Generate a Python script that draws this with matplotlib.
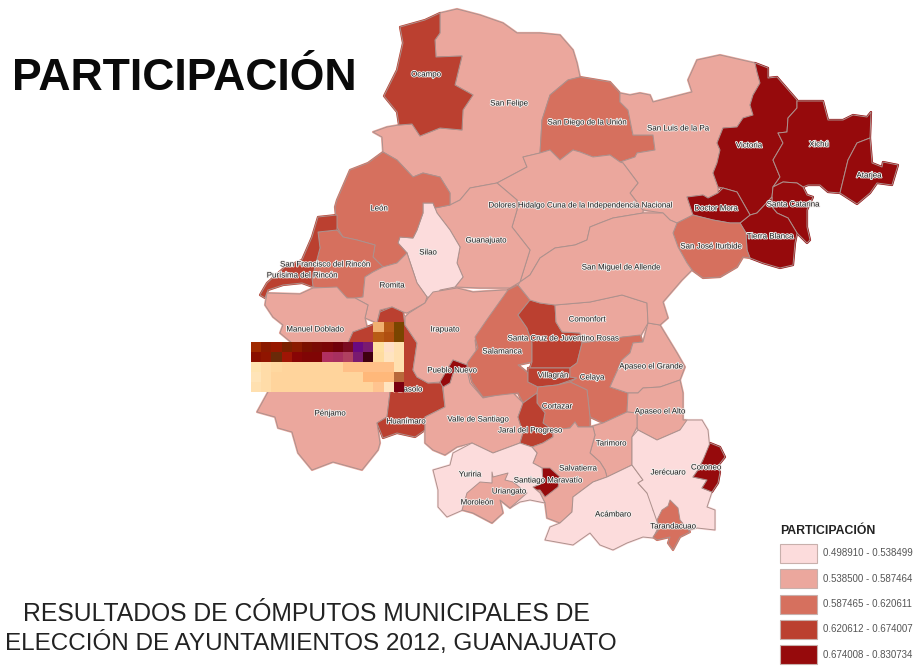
import numpy as np
import matplotlib
matplotlib.use("Agg")
import matplotlib.pyplot as plt
import matplotlib.patheffects as pe
from matplotlib.colors import to_rgba
from matplotlib.patches import Polygon, Rectangle

plt.rcParams['font.family'] = ['Liberation Sans', 'DejaVu Sans']

# municipality outlines (pixel positions of the scanned map)
ocampo = [(440,13),(440,33),(435,40),(436,57),(462,56),(455,85),(473,95),(463,110),(462,130),(440,128),(420,136),(412,124),(399,125),(397,112),(384,96),(397,70),(403,43),(400,27),(425,20)]
san_felipe = [(440,13),(457,9),(480,15),(503,23),(517,33),(540,33),(560,35),(573,50),(577,63),(580,77),(568,80),(550,95),(542,120),(540,153),(523,157),(527,167),(497,183),(470,188),(460,200),(450,205),(450,193),(440,177),(423,173),(413,177),(397,160),(383,152),(382,137),(373,132),(387,127),(399,125),(412,124),(420,136),(440,128),(462,130),(463,110),(473,95),(455,85),(462,56),(436,57),(435,40),(440,33)]
san_diego = [(568,80),(580,77),(610,82),(620,93),(620,102),(628,110),(633,135),(653,135),(655,150),(637,153),(635,157),(620,162),(610,155),(593,157),(580,152),(573,150),(560,160),(550,150),(540,153),(542,120),(550,95)]
san_luis = [(620,93),(630,95),(640,93),(650,95),(653,102),(692,92),(688,80),(697,60),(720,55),(755,63),(757,72),(760,83),(753,95),(750,105),(753,115),(743,118),(737,127),(723,128),(717,143),(720,150),(717,163),(713,173),(718,187),(718,193),(708,198),(703,195),(687,197),(693,215),(677,223),(670,220),(663,213),(643,210),(630,193),(638,183),(623,163),(620,162),(635,157),(637,153),(655,150),(653,135),(633,135),(628,110),(620,102)]
victoria = [(755,63),(768,68),(768,78),(777,77),(797,100),(797,108),(788,118),(787,132),(778,133),(783,143),(773,160),(780,177),(773,187),(772,197),(757,213),(750,215),(737,192),(723,188),(718,187),(713,173),(717,163),(720,150),(717,143),(723,128),(737,127),(743,118),(753,115),(750,105),(753,95),(760,83),(757,72)]
xichu = [(797,101),(823,101),(828,120),(843,120),(853,115),(867,117),(871,112),(870,138),(857,143),(848,160),(840,193),(828,192),(820,185),(808,185),(803,187),(797,183),(783,182),(773,187),(780,177),(773,160),(783,143),(778,133),(787,132),(788,118),(797,108)]
atarjea = [(870,138),(872,163),(882,167),(883,162),(898,165),(892,185),(877,183),(870,193),(857,204),(840,193),(848,160),(857,143)]
santa_catarina = [(773,187),(783,182),(797,183),(803,187),(807,195),(813,197),(807,210),(807,227),(810,240),(807,243),(797,233),(788,218),(777,213),(772,207),(772,197)]
tierra_blanca = [(750,215),(757,213),(772,197),(772,207),(777,213),(788,218),(797,233),(795,243),(793,265),(780,268),(763,263),(750,258),(747,250),(746,233),(740,223)]
doctor_mora = [(687,197),(703,195),(708,198),(718,193),(723,188),(737,192),(750,215),(740,223),(730,223),(713,220),(693,215)]
san_jose = [(693,215),(713,220),(730,223),(740,223),(746,233),(747,250),(750,258),(743,257),(737,267),(720,277),(703,278),(692,270),(687,263),(678,247),(673,233),(677,223)]
dolores = [(540,153),(550,150),(560,160),(573,150),(580,152),(593,157),(610,155),(620,162),(623,163),(638,183),(630,193),(643,210),(643,213),(613,218),(600,223),(590,227),(587,240),(575,245),(555,248),(540,258),(530,275),(520,282),(530,250),(512,227),(517,210),(517,200),(497,183),(527,167),(523,157)]
guanajuato = [(497,183),(517,200),(517,210),(512,227),(530,250),(520,282),(510,288),(480,288),(455,287),(463,277),(457,263),(460,247),(450,230),(437,213),(435,208),(450,205),(460,200),(470,188)]
silao = [(423,203),(433,203),(437,213),(450,230),(460,247),(457,263),(463,277),(455,287),(440,290),(438,298),(427,297),(417,283),(407,253),(398,243),(400,237),(413,238),(417,230),(423,213)]
leon = [(383,152),(397,160),(413,177),(423,173),(440,177),(450,193),(450,205),(435,208),(433,203),(423,203),(423,213),(417,230),(413,238),(400,237),(398,243),(407,253),(397,263),(383,267),(373,257),(375,245),(357,240),(343,237),(337,227),(335,207),(337,200),(350,170),(368,163)]
san_francisco = [(318,232),(337,230),(343,237),(357,240),(375,245),(373,257),(383,267),(373,272),(365,277),(363,297),(350,300),(337,290),(313,287),(312,278),(320,248)]
purisima = [(318,217),(337,215),(337,230),(318,232),(320,248),(312,278),(313,287),(302,283),(283,285),(268,290),(265,298),(260,295),(267,283),(285,267),(302,260),(312,237)]
romita = [(383,267),(397,263),(407,253),(417,283),(427,297),(425,303),(407,313),(403,312),(392,307),(380,310),(377,323),(365,318),(368,305),(355,298),(363,297),(365,277),(373,272)]
manuel_doblado = [(265,305),(267,293),(300,294),(313,288),(337,287),(347,298),(355,298),(368,305),(365,318),(367,327),(353,332),(348,343),(292,343),(280,333),(283,325),(273,317)]
penjamo = [(292,343),(348,343),(375,343),(390,392),(387,417),(377,423),(380,443),(378,450),(362,470),(333,462),(312,470),(298,453),(292,432),(278,428),(275,417),(257,412),(268,392),(262,370)]
cueramaro = [(348,343),(353,332),(367,327),(377,323),(380,343),(376,362),(350,362)]
abasolo = [(377,323),(380,312),(392,307),(403,312),(405,325),(413,337),(417,343),(413,370),(417,377),(428,383),(442,383),(445,407),(425,417),(425,430),(415,437),(397,433),(383,438),(377,423),(387,417),(390,392),(375,343)]
irapuato = [(409,313),(425,303),(428,298),(433,292),(457,288),(473,292),(503,290),(510,290),(493,317),(475,340),(477,358),(467,365),(453,360),(447,370),(440,382),(428,383),(417,377),(413,370),(417,343),(413,337),(405,325),(405,317)]
pueblo_nuevo = [(453,360),(467,365),(467,370),(453,373),(450,383),(443,387),(440,382),(447,370)]
valle_santiago = [(453,373),(450,383),(443,387),(445,407),(425,417),(425,443),(433,450),(445,455),(457,447),(472,443),(493,453),(520,443),(523,433),(518,417),(523,403),(512,392),(483,398),(470,383),(467,370)]
salamanca = [(518,285),(530,300),(518,315),(527,328),(532,343),(532,362),(518,365),(528,373),(528,382),(538,387),(537,393),(523,403),(518,393),(483,397),(472,382),(467,363),(478,348),(475,337),(488,318),(508,290)]
santa_cruz = [(518,315),(530,300),(540,303),(555,305),(556,322),(562,332),(580,333),(582,343),(577,363),(570,368),(530,368),(532,362),(532,343),(527,328)]
villagran = [(528,368),(570,368),(570,377),(577,378),(557,385),(538,387),(528,382)]
comonfort = [(555,305),(590,302),(622,295),(647,303),(648,323),(640,337),(623,337),(613,340),(582,342),(580,333),(562,332),(556,322)]
celaya = [(582,343),(623,337),(640,335),(643,342),(633,343),(630,353),(622,360),(610,387),(628,393),(627,412),(603,423),(590,417),(587,390),(570,382),(577,378),(570,377),(570,368),(577,363)]
cortazar = [(538,387),(557,385),(570,382),(587,390),(590,417),(590,427),(578,427),(575,422),(570,428),(553,430),(543,423),(545,413),(537,403),(537,393)]
jaral = [(537,393),(523,403),(518,417),(523,433),(520,443),(532,447),(543,443),(553,437),(553,430),(543,423),(545,413),(537,403)]
apaseo_grande = [(643,342),(648,323),(660,325),(677,353),(685,367),(680,380),(660,387),(643,388),(638,393),(628,393),(610,387),(622,360),(630,353),(633,343)]
apaseo_alto = [(628,393),(638,393),(643,388),(660,387),(680,380),(683,393),(683,420),(687,420),(687,425),(680,430),(657,440),(638,430),(637,427),(637,413),(627,412)]
san_miguel = [(643,213),(613,218),(600,223),(590,227),(587,240),(575,245),(555,248),(540,258),(530,275),(520,282),(518,285),(530,300),(540,303),(555,305),(590,302),(622,295),(647,303),(648,323),(660,325),(668,318),(663,302),(682,280),(692,270),(687,263),(678,247),(673,233),(677,223),(670,220),(663,213)]
tarimoro = [(590,427),(603,423),(627,412),(637,413),(637,427),(632,437),(632,453),(632,465),(607,477),(605,470),(600,462),(590,453),(595,435),(593,427)]
salvatierra = [(553,430),(570,428),(575,422),(578,427),(593,427),(595,435),(590,453),(600,462),(605,470),(607,477),(593,482),(573,497),(572,512),(560,523),(547,518),(545,503),(540,493),(533,487),(542,468),(533,463),(537,453),(532,447),(543,443),(553,437)]
santiago_maravatio = [(542,468),(550,468),(560,477),(558,487),(545,497),(540,490),(533,490),(533,487),(543,483)]
yuriria = [(453,453),(472,443),(493,453),(520,443),(532,447),(537,453),(533,463),(542,468),(543,483),(533,487),(540,493),(545,503),(530,500),(520,502),(510,508),(500,500),(502,513),(492,523),(473,513),(463,510),(447,517),(438,507),(438,490),(433,470),(450,465)]
moroleon = [(492,472),(493,477),(508,473),(505,480),(513,482),(527,493),(510,508),(500,500),(503,513),(492,523),(473,513),(462,510),(467,493),(480,482),(492,483)]
acambaro = [(607,477),(632,465),(643,480),(638,483),(647,493),(657,503),(653,510),(660,520),(657,530),(653,538),(643,537),(627,543),(613,550),(600,545),(590,533),(580,540),(573,545),(545,540),(550,527),(560,523),(572,512),(573,497),(593,482)]
jerecuaro = [(632,437),(638,430),(657,440),(680,430),(687,420),(702,420),(708,430),(710,450),(703,460),(698,470),(693,477),(707,480),(702,488),(712,492),(707,507),(715,510),(715,530),(697,528),(683,532),(660,530),(653,510),(647,493),(638,483),(643,480),(632,465),(632,453)]
tarandacuao = [(670,500),(678,508),(680,520),(690,532),(680,537),(673,550),(668,543),(670,537),(657,540),(653,537),(660,528),(657,520),(662,510),(668,506)]
coroneo = [(710,443),(720,447),(725,457),(717,467),(720,472),(718,483),(712,492),(702,488),(707,480),(693,477),(698,470),(703,460)]

outlines = [san_felipe, ocampo, san_diego, san_luis, victoria, xichu, atarjea, santa_catarina,
            tierra_blanca, doctor_mora, san_jose, dolores, guanajuato, silao, leon, san_francisco,
            purisima, romita, manuel_doblado, penjamo, cueramaro, abasolo, irapuato, valle_santiago,
            pueblo_nuevo, salamanca, santa_cruz, villagran, comonfort, celaya, cortazar, jaral,
            apaseo_grande, apaseo_alto, san_miguel, tarimoro, salvatierra, santiago_maravatio, yuriria,
            moroleon, acambaro, jerecuaro, tarandacuao, coroneo]
# participation class of each outline, same order
clases = [1, 3, 2, 1, 4, 4, 4, 4,
          4, 4, 2, 1, 1, 0, 2, 2,
          3, 1, 1, 1, 3, 3, 1, 1,
          4, 2, 3, 3, 1, 2, 2, 3,
          1, 1, 1, 1, 1, 4, 0,
          1, 0, 0, 2, 4]

colores = ['#fcdcdc', '#eba79d', '#d6705e', '#bb4030', '#960a0c']
rangos = ['0.498910 - 0.538499', '0.538500 - 0.587464', '0.587465 - 0.620611',
          '0.620612 - 0.674007', '0.674008 - 0.830734']

nombres = ['Ocampo', 'San Felipe', 'San Diego de la Unión', 'San Luis de la Pa', 'Victoria', 'Xichú', 'Atarjea',
           'Doctor Mora', 'Santa Catarina', 'Tierra Blanca', 'San José Iturbide', 'San Miguel de Allende',
           'Dolores Hidalgo Cuna de la Independencia Nacional', 'Guanajuato', 'Silao', 'León',
           'San Francisco del Rincón', 'Purísima del Rincón', 'Romita', 'Manuel Doblado', 'Irapuato', 'Comonfort',
           'Santa Cruz de Juventino Rosas', 'Salamanca', 'Pueblo Nuevo', 'Villagrán', 'Celaya', 'Apaseo el Grande',
           'Cortazar', 'Apaseo el Alto', 'Valle de Santiago', 'Jaral del Progreso', 'Tarimoro', 'Salvatierra',
           'Santiago Maravatío', 'Yuriria', 'Uriangato', 'Moroleón', 'Acámbaro', 'Jerécuaro', 'Coroneo',
           'Tarandacuao', 'Pénjamo', 'Huanímaro', 'Abasolo']
nombres_x = [426, 509, 587, 678, 749, 819, 869, 716, 793, 770, 711, 621, 580, 486, 428, 379, 325, 302, 392, 315, 445,
             587, 563, 502, 452, 553, 592, 651, 557, 660, 478, 530, 611, 578, 548, 470, 509, 477, 613, 668, 706, 673,
             330, 406, 408]
nombres_y = [75, 104, 123, 129, 146, 145, 176, 209, 205, 237, 247, 268, 206, 241, 253, 209, 265, 276, 286, 330, 330,
             320, 339, 352, 371, 376, 378, 367, 407, 412, 420, 431, 444, 469, 481, 475, 492, 503, 515, 473, 468, 527,
             414, 422, 390]

# the broken block of the scan, 15 x 7 cells
bloque = [
    [None]*12 + ['#f0b070', '#b85a18', '#7a4500'],
    [None]*12 + ['#b85c15', '#b04f10', '#7a4500'],
    ['#a02a00', '#8a1a00', '#961800', '#7a2000', '#8a1a00', '#7a1000', '#7a0a05', '#7a0505', '#70000a', '#7a0a20', '#6a0a80', '#7a1a70', '#ffe0a0', '#ffe0c8', '#ffe0b0'],
    ['#8a1000', '#901500', '#6a2a08', '#a01505', '#880505', '#800505', '#800505', '#b03060', '#a83060', '#b04060', '#7a1a70', '#400010', '#ffdca0', '#ffe4c0', '#ffe0b0'],
    ['#ffe4b0', '#ffdca8', '#ffd8a0', '#ffd49c', '#ffd49c', '#ffd49c', '#ffd49c', '#ffd49c', '#ffd49c', '#ffc088', '#ffc088', '#ffc088', '#ffc088', '#ffc088', '#ffe0b0'],
    ['#ffe4b8', '#ffdca8', '#ffd49c', '#ffd49c', '#ffd49c', '#ffd49c', '#ffd49c', '#ffd49c', '#ffd49c', '#ffd49c', '#ffd49c', '#ffb87a', '#ffb87a', '#ffb87a', '#b8683a'],
    ['#ffe0b0', '#ffdca8', '#ffd49c', '#ffd49c', '#ffd49c', '#ffd49c', '#ffd49c', '#ffd49c', '#ffd49c', '#ffd49c', '#ffd49c', '#ffd49c', '#ffc490', '#ffe4c0', '#7a0010'],
]

fig = plt.figure(figsize=(9.15, 6.66), dpi=100)
ax = fig.add_axes([0, 0, 1, 1])

# thick same-colour pass first so small slivers between neighbours do not stay white
for contorno, clase in zip(outlines, clases):
    ax.add_patch(Polygon(contorno, closed=True, facecolor=colores[clase], edgecolor=colores[clase], linewidth=1.6, joinstyle='round'))
for contorno, clase in zip(outlines, clases):
    ax.add_patch(Polygon(contorno, closed=True, facecolor=colores[clase], edgecolor='#ad918d', linewidth=0.7, joinstyle='round'))

for nombre, x, y in zip(nombres, nombres_x, nombres_y):
    ax.text(x, y, nombre, fontsize=5.7, color='#1c1c1c', ha='center', va='center',
            path_effects=[pe.withStroke(linewidth=1.3, foreground='#f2eeec')])

celdas = np.array([[to_rgba(c) if c else (0, 0, 0, 0) for c in fila] for fila in bloque])
ax.imshow(celdas, extent=(251, 404, 392, 322), interpolation='nearest', aspect='auto', zorder=5)

ax.set_xlim(0, 915)
ax.set_ylim(666, 0)
ax.axis('off')

ax.text(12, 90, 'PARTICIPACIÓN', fontsize=32, fontweight='bold', color='#0a0a0a', ha='left', va='baseline')
ax.text(306, 614, 'RESULTADOS DE CÓMPUTOS MUNICIPALES DE', fontsize=17.8, color='#222222', ha='center', va='center')
ax.text(311, 643, 'ELECCIÓN DE AYUNTAMIENTOS 2012, GUANAJUATO', fontsize=17.5, color='#222222', ha='center', va='center')

# legend
ax.text(780, 531, 'PARTICIPACIÓN', fontsize=8.8, fontweight='bold', color='#222222', ha='left', va='center')
for i, (color, rango) in enumerate(zip(colores, rangos)):
    y0 = 544 + i * 25.3
    ax.add_patch(Rectangle((780, y0), 37, 19, facecolor=color, edgecolor='#c8b0ac', linewidth=0.8))
    ax.text(823, y0 + 9.5, rango, fontsize=7, color='#555555', ha='left', va='center')

fig.savefig('out.png', dpi=100)
